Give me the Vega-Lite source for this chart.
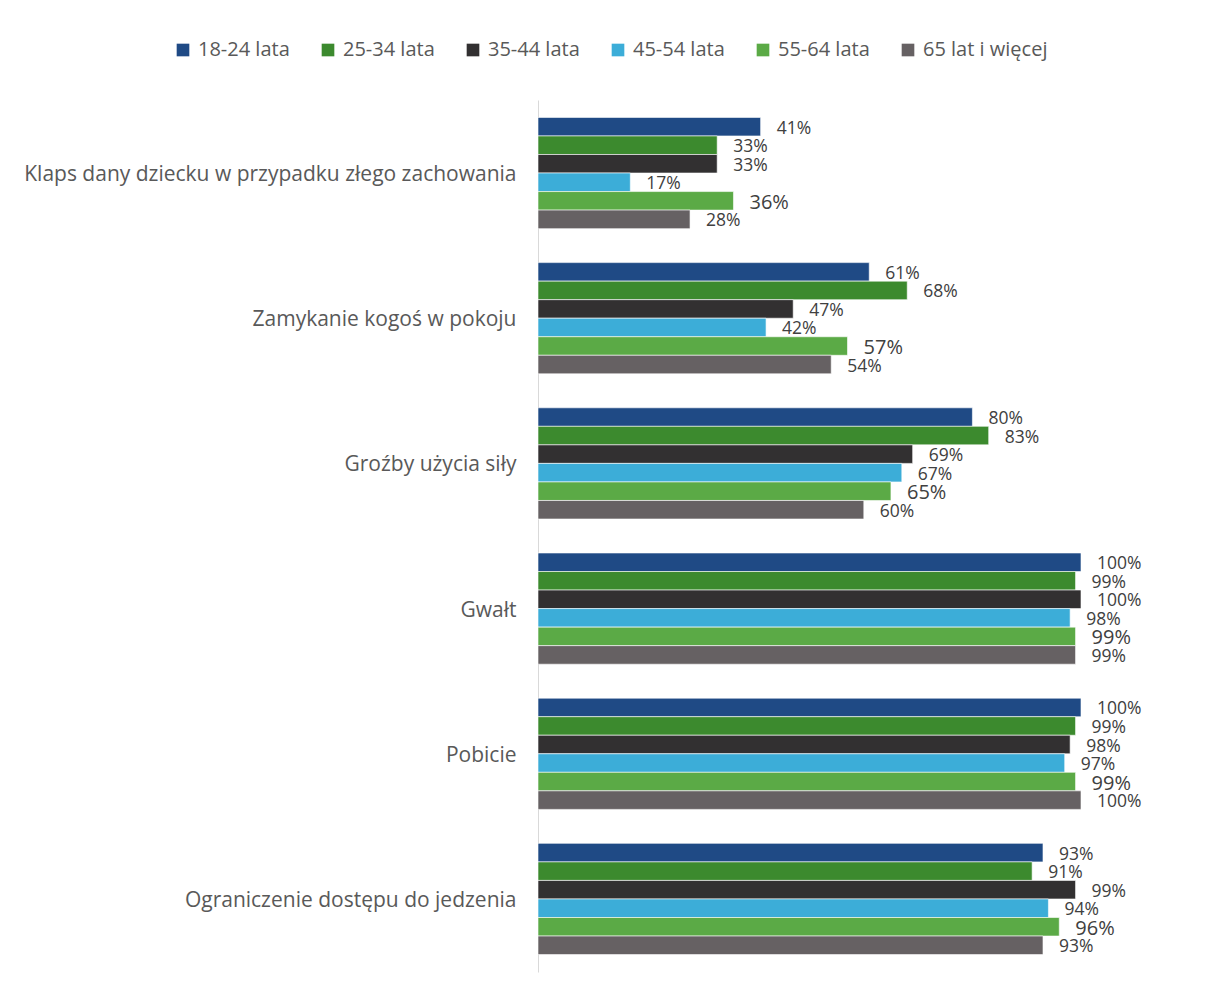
{
  "$schema": "https://vega.github.io/schema/vega-lite/v6.json",
  "autosize": {"type": "none"},
  "width": 543,
  "height": 872,
  "padding": {"left": 538, "top": 100, "right": 124, "bottom": 18},
  "background": "white",
  "config": {
    "font": "Open Sans",
    "view": {"stroke": null}
  },
  "data": {
    "values": [
      {"kategoria": "Klaps dany dziecku w przypadku złego zachowania", "grupa": "18-24 lata", "wartosc": 0.41},
      {"kategoria": "Klaps dany dziecku w przypadku złego zachowania", "grupa": "25-34 lata", "wartosc": 0.33},
      {"kategoria": "Klaps dany dziecku w przypadku złego zachowania", "grupa": "35-44 lata", "wartosc": 0.33},
      {"kategoria": "Klaps dany dziecku w przypadku złego zachowania", "grupa": "45-54 lata", "wartosc": 0.17},
      {"kategoria": "Klaps dany dziecku w przypadku złego zachowania", "grupa": "55-64 lata", "wartosc": 0.36},
      {"kategoria": "Klaps dany dziecku w przypadku złego zachowania", "grupa": "65 lat i więcej", "wartosc": 0.28},
      {"kategoria": "Zamykanie kogoś w pokoju", "grupa": "18-24 lata", "wartosc": 0.61},
      {"kategoria": "Zamykanie kogoś w pokoju", "grupa": "25-34 lata", "wartosc": 0.68},
      {"kategoria": "Zamykanie kogoś w pokoju", "grupa": "35-44 lata", "wartosc": 0.47},
      {"kategoria": "Zamykanie kogoś w pokoju", "grupa": "45-54 lata", "wartosc": 0.42},
      {"kategoria": "Zamykanie kogoś w pokoju", "grupa": "55-64 lata", "wartosc": 0.57},
      {"kategoria": "Zamykanie kogoś w pokoju", "grupa": "65 lat i więcej", "wartosc": 0.54},
      {"kategoria": "Groźby użycia siły", "grupa": "18-24 lata", "wartosc": 0.80},
      {"kategoria": "Groźby użycia siły", "grupa": "25-34 lata", "wartosc": 0.83},
      {"kategoria": "Groźby użycia siły", "grupa": "35-44 lata", "wartosc": 0.69},
      {"kategoria": "Groźby użycia siły", "grupa": "45-54 lata", "wartosc": 0.67},
      {"kategoria": "Groźby użycia siły", "grupa": "55-64 lata", "wartosc": 0.65},
      {"kategoria": "Groźby użycia siły", "grupa": "65 lat i więcej", "wartosc": 0.60},
      {"kategoria": "Gwałt", "grupa": "18-24 lata", "wartosc": 1.00},
      {"kategoria": "Gwałt", "grupa": "25-34 lata", "wartosc": 0.99},
      {"kategoria": "Gwałt", "grupa": "35-44 lata", "wartosc": 1.00},
      {"kategoria": "Gwałt", "grupa": "45-54 lata", "wartosc": 0.98},
      {"kategoria": "Gwałt", "grupa": "55-64 lata", "wartosc": 0.99},
      {"kategoria": "Gwałt", "grupa": "65 lat i więcej", "wartosc": 0.99},
      {"kategoria": "Pobicie", "grupa": "18-24 lata", "wartosc": 1.00},
      {"kategoria": "Pobicie", "grupa": "25-34 lata", "wartosc": 0.99},
      {"kategoria": "Pobicie", "grupa": "35-44 lata", "wartosc": 0.98},
      {"kategoria": "Pobicie", "grupa": "45-54 lata", "wartosc": 0.97},
      {"kategoria": "Pobicie", "grupa": "55-64 lata", "wartosc": 0.99},
      {"kategoria": "Pobicie", "grupa": "65 lat i więcej", "wartosc": 1.00},
      {"kategoria": "Ograniczenie dostępu do jedzenia", "grupa": "18-24 lata", "wartosc": 0.93},
      {"kategoria": "Ograniczenie dostępu do jedzenia", "grupa": "25-34 lata", "wartosc": 0.91},
      {"kategoria": "Ograniczenie dostępu do jedzenia", "grupa": "35-44 lata", "wartosc": 0.99},
      {"kategoria": "Ograniczenie dostępu do jedzenia", "grupa": "45-54 lata", "wartosc": 0.94},
      {"kategoria": "Ograniczenie dostępu do jedzenia", "grupa": "55-64 lata", "wartosc": 0.96},
      {"kategoria": "Ograniczenie dostępu do jedzenia", "grupa": "65 lat i więcej", "wartosc": 0.93}
    ]
  },
  "encoding": {
    "y": {
      "field": "kategoria", "type": "nominal", "sort": null,
      "scale": {"paddingInner": 0.234, "paddingOuter": 0.12},
      "axis": {
        "title": null, "ticks": false, "domainColor": "#d9d9d9", "domainWidth": 1,
        "labelFontSize": 21, "labelColor": "#595959", "labelPadding": 22, "labelLimit": 600, "labelOffset": 2
      }
    },
    "yOffset": {"field": "grupa", "type": "nominal", "sort": null},
    "x": {
      "field": "wartosc", "type": "quantitative",
      "scale": {"domain": [0, 1], "nice": false},
      "axis": null
    }
  },
  "layer": [
    {
      "mark": {"type": "bar", "stroke": "white", "strokeWidth": 0.6},
      "encoding": {
        "color": {
          "field": "grupa", "type": "nominal", "sort": null,
          "scale": {
            "domain": ["18-24 lata", "25-34 lata", "35-44 lata", "45-54 lata", "55-64 lata", "65 lat i więcej"],
            "range": ["#1F4A85", "#3C8A2E", "#323031", "#3CADD8", "#5BAA46", "#666163"]
          },
          "legend": {
            "title": null, "orient": "none", "direction": "horizontal",
            "legendX": -365, "legendY": -60,
            "symbolType": "square", "symbolSize": 160, "symbolStrokeWidth": 0,
            "labelFontSize": 20, "labelColor": "#595959", "columnPadding": 28, "labelOffset": 5
          }
        }
      }
    },
    {
      "mark": {"type": "text", "align": "left", "baseline": "middle", "dx": 16, "dy": 2, "color": "#404040"},
      "encoding": {
        "text": {"field": "wartosc", "type": "quantitative", "format": ".0%"},
        "size": {
          "condition": {"test": "datum.grupa === '55-64 lata'", "value": 20},
          "value": 17.5
        }
      }
    }
  ]
}
